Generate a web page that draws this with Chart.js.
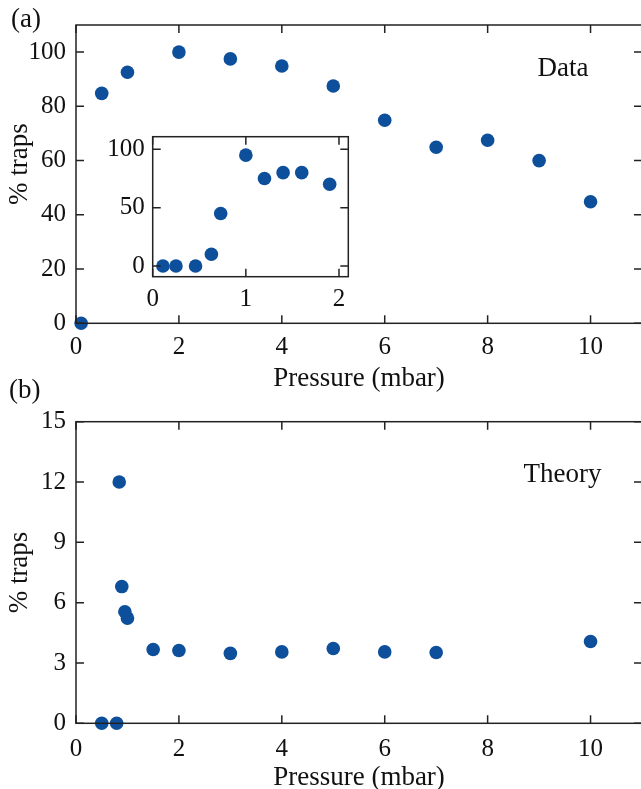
<!DOCTYPE html>
<html>
<head>
<meta charset="utf-8">
<script src="https://cdn.jsdelivr.net/npm/chart.js@4.4.0/dist/chart.umd.min.js"></script>
<style>
  html, body { margin: 0; padding: 0; background: #fff; overflow: hidden; width: 641px; height: 789px; }
  canvas { position: absolute; }
  #chartA { left: 0; top: 0; }
  #chartB { left: 0; top: 370px; }
  #inset { left: 80px; top: 110px; }
</style>
</head>
<body>
<canvas id="chartA" width="660" height="395"></canvas>
<canvas id="chartB" width="660" height="435"></canvas>
<canvas id="inset" width="290" height="210"></canvas>
<script>
// panel (a): measured data
var dataPressure = [0.1, 0.5, 1, 2, 3, 4, 5, 6, 7, 8, 9, 10];
var dataTraps = [0, 84.8, 92.6, 100, 97.5, 94.9, 87.5, 74.9, 64.9, 67.5, 60, 44.8];
// inset of (a), low pressure
var insetPressure = [0.11, 0.25, 0.46, 0.63, 0.73, 1.0, 1.2, 1.4, 1.6, 1.9];
var insetTraps = [0, 0, 0, 10, 45, 95, 75, 80, 80, 70];
// panel (b): theory
var theoryPressure = [0.5, 0.79, 0.84, 0.89, 0.95, 1.0, 1.5, 2, 3, 4, 5, 6, 7, 10];
var theoryTraps = [0, 0, 12.0, 6.8, 5.55, 5.23, 3.67, 3.62, 3.48, 3.55, 3.72, 3.55, 3.52, 4.07];

var xTicks = [0, 2, 4, 6, 8, 10];
var yTicksA = [0, 20, 40, 60, 80, 100];
var yTicksB = [0, 3, 6, 9, 12, 15];
var xTicksInset = [0, 1, 2];
var yTicksInset = [0, 50, 100];

var blue = '#0d4f9b';
var ink = '#111';
var serif = '"Liberation Serif", "DejaVu Serif", serif';

// box around the plot, inward ticks on all four sides, and free text
var frameTicks = {
  id: 'frameTicks',
  afterDraw: function(chart, args, o) {
    var ctx = chart.ctx, a = chart.chartArea;
    var sx = chart.scales.x, sy = chart.scales.y;
    var len = 8;
    ctx.save();
    ctx.strokeStyle = '#222';
    ctx.lineWidth = 1.5;
    ctx.strokeRect(a.left, a.top, a.right - a.left, a.bottom - a.top);
    ctx.beginPath();
    sx.ticks.forEach(function(t) {
      var px = sx.getPixelForValue(t.value);
      ctx.moveTo(px, a.bottom); ctx.lineTo(px, a.bottom - len);
      ctx.moveTo(px, a.top); ctx.lineTo(px, a.top + len);
    });
    sy.ticks.forEach(function(t) {
      var py = sy.getPixelForValue(t.value);
      ctx.moveTo(a.left, py); ctx.lineTo(a.left + len, py);
      ctx.moveTo(a.right, py); ctx.lineTo(a.right - len, py);
    });
    ctx.stroke();
    ctx.fillStyle = ink;
    ctx.textBaseline = 'alphabetic';
    (o.texts || []).forEach(function(t) {
      ctx.font = t.size + 'px ' + serif;
      ctx.textAlign = t.align || 'left';
      ctx.fillText(t.text, t.x, t.y);
    });
    ctx.restore();
  }
};

function panel(id, px, py, o) {
  var pts = px.map(function(x, i) { return { x: x, y: py[i] }; });
  return new Chart(document.getElementById(id), {
    type: 'scatter',
    data: {
      datasets: [{
        data: pts,
        backgroundColor: blue,
        borderWidth: 0,
        pointRadius: 6.8,
        pointHoverRadius: 6.8,
        clip: false
      }]
    },
    options: {
      responsive: false,
      animation: false,
      events: [],
      layout: { padding: o.pad },
      plugins: {
        legend: { display: false },
        tooltip: { enabled: false },
        frameTicks: { texts: o.texts }
      },
      scales: {
        x: {
          type: 'linear',
          min: o.xMin, max: o.xMax,
          grid: { display: false, drawTicks: false },
          border: { display: false },
          afterBuildTicks: function(s) { s.ticks = o.xTicks.map(function(v) { return { value: v }; }); },
          afterFit: function(s) { s.height = o.xH; },
          ticks: { font: { family: serif, size: 25 }, color: ink, padding: o.xPad, autoSkip: false, maxRotation: 0 },
          title: o.xTitle
            ? { display: true, text: o.xTitle, color: ink, font: { family: serif, size: 27 }, padding: { top: 0, bottom: o.xTitlePad } }
            : { display: false }
        },
        y: {
          type: 'linear',
          min: o.yMin, max: o.yMax,
          grid: { display: false, drawTicks: false },
          border: { display: false },
          afterBuildTicks: function(s) { s.ticks = o.yTicks.map(function(v) { return { value: v }; }); },
          afterFit: function(s) { s.width = o.yW; },
          ticks: { font: { family: serif, size: 25 }, color: ink, padding: o.yPad, autoSkip: false },
          title: o.yTitle
            ? { display: true, text: o.yTitle, color: ink, font: { family: serif, size: 27 }, padding: { top: 4, bottom: 0 } }
            : { display: false }
        }
      }
    },
    plugins: [frameTicks]
  });
}

panel('chartA', dataPressure, dataTraps, {
  pad: { top: 20.7, right: 18, left: 0, bottom: 0 },
  xMin: 0, xMax: 11, yMin: 0, yMax: 110,
  xTicks: xTicks, yTicks: yTicksA,
  xH: 71.7, yW: 76, xPad: 9, yPad: 10,
  xTitle: 'Pressure (mbar)', xTitlePad: 0,
  yTitle: '   % traps',
  texts: [
    { text: '(a)', x: 11, y: 27, size: 27 },
    { text: 'Data', x: 563, y: 75.7, size: 27, align: 'center' }
  ]
});

panel('chartB', theoryPressure, theoryTraps, {
  pad: { top: 51.7, right: 18, left: 0, bottom: 0 },
  xMin: 0, xMax: 11, yMin: 0, yMax: 15,
  xTicks: xTicks, yTicks: yTicksB,
  xH: 81.7, yW: 76, xPad: 11, yPad: 10,
  xTitle: 'Pressure (mbar)', xTitlePad: 11,
  yTitle: '% traps',
  texts: [
    { text: '(b)', x: 9, y: 28, size: 27 },
    { text: 'Theory', x: 562.5, y: 111.7, size: 27, align: 'center' }
  ]
});

panel('inset', insetPressure, insetTraps, {
  pad: { top: 26.7, right: 21.7, left: 0, bottom: 0 },
  xMin: 0, xMax: 2.1, yMin: -9.2, yMax: 110.8,
  xTicks: xTicksInset, yTicks: yTicksInset,
  xH: 43.3, yW: 72.7, xPad: 8, yPad: 8,
  xTitle: null, yTitle: null,
  texts: []
});
</script>
</body>
</html>
